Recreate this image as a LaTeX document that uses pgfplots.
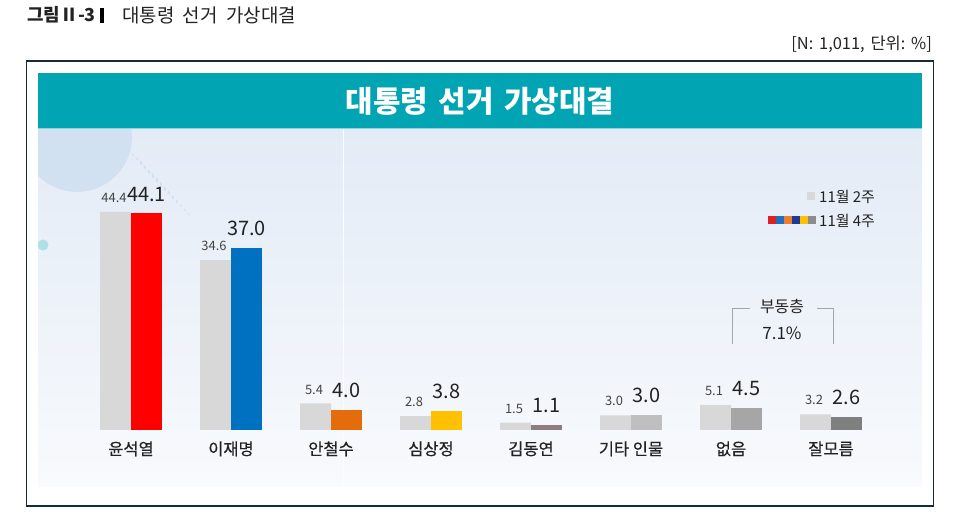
\documentclass[border=0pt]{standalone}
\usepackage{pgfplots}
\pgfplotsset{compat=1.18}
\usepackage{fontspec}
\setmainfont{Noto Sans CJK KR}
\newfontfamily\labfont[FakeBold=0.5]{Noto Sans CJK KR}
\definecolor{boxc}{HTML}{1B2A3A}
\definecolor{bann}{HTML}{00A4B2}
\definecolor{bannl}{HTML}{8AD6DC}
\definecolor{bgtop}{HTML}{E3EBF6}
\definecolor{bgbot}{HTML}{F8FAFD}
\definecolor{circc}{HTML}{CADDF1}
\definecolor{g2}{HTML}{D8D8D8}
\definecolor{cred}{HTML}{FF0000}
\definecolor{cblue}{HTML}{0070C0}
\definecolor{corange}{HTML}{E46C0A}
\definecolor{cyellow}{HTML}{FFC000}
\definecolor{cmauve}{HTML}{8E7C7E}
\definecolor{clgray}{HTML}{BFBFBF}
\definecolor{cmgray}{HTML}{A6A6A6}
\definecolor{cdgray}{HTML}{7F7F7F}
\definecolor{lred}{HTML}{E02020}
\definecolor{lblue}{HTML}{1F6FC0}
\definecolor{lorange}{HTML}{ED7D31}
\definecolor{lnavy}{HTML}{1F3A93}
\definecolor{lyellow}{HTML}{FFC000}
\definecolor{lgray}{HTML}{8C8C8C}
\definecolor{txt}{HTML}{222222}
\pgfplotsset{
  big/.style={nodes near coords={\pgfmathprintnumber[fixed,fixed zerofill,precision=1]{\pgfplotspointmeta}},
    nodes near coords style={anchor=south, inner sep=0pt, yshift=12bp, font=\fontsize{20}{22}\selectfont, text=txt}},
  small/.style={nodes near coords={\pgfmathprintnumber[fixed,fixed zerofill,precision=1]{\pgfplotspointmeta}},
    nodes near coords style={anchor=south, inner sep=0pt, yshift=9bp, xshift=-1.5bp, font=\fontsize{13}{15}\selectfont, text=txt!85}},
  s2/.style={fill=#1, draw=none, bar shift=15.5bp, big},
}
\begin{document}
\begin{tikzpicture}[x=1bp,y=1bp]
\path (0,0) rectangle (956,529);
% header
\node[anchor=west, inner sep=0pt, font=\bfseries\fontsize{18}{20}\selectfont, text=txt] at (27,514) {그림Ⅱ-3};
\fill[black] (100,506) rectangle (103.5,521);
\node[anchor=west, inner sep=0pt, font=\fontsize{19}{21}\selectfont, text=txt] at (122,514) {대통령\hspace{0.45em}선거\hspace{0.45em}가상대결};
\node[anchor=east, inner sep=0pt, font=\fontsize{16.5}{18}\selectfont, text=txt] at (932,485) {[N:\hspace{0.35em}1,011,\hspace{0.35em}단위:\hspace{0.35em}\%]};
% frame and banner
\draw[line width=1.3bp, draw=boxc] (26.7,23) rectangle (933.7,468);
\shade[top color=bgtop, bottom color=bgbot] (38,42) rectangle (922,399.5);
\begin{scope}
\clip (38,42) rectangle (922,399.5);
\fill[circc, opacity=0.7] (77,392) circle (55);
\fill[bannl, opacity=0.6] (43,284) circle (5.5);
\draw[white!85!bgtop, line width=0.8bp] (343,399.5) -- (343,42);
\foreach \o in {0,12,24} {\draw[circc, dashed, line width=0.6bp] (128+\o,380-\o) -- (168+\o,335-\o);}
\end{scope}
\fill[bann] (38,399.5) rectangle (922,455.5);
\draw[bannl, line width=1bp] (38,400) -- (922,400);
\node[font=\bfseries\fontsize{30}{32}\selectfont, text=white] at (480,428) {대통령\hspace{0.35em}선거\hspace{0.35em}가상대결};
% legend
\fill[g2] (807,328.5) rectangle (815,336.5);
\node[anchor=west, inner sep=0pt, font=\fontsize{15}{17}\selectfont, text=txt] at (819,332.4) {11월 2주};
\fill[lred] (768,304.5) rectangle (776,312.5);
\fill[lblue] (776,304.5) rectangle (784,312.5);
\fill[lorange] (784,304.5) rectangle (792,312.5);
\fill[lnavy] (792,304.5) rectangle (800,312.5);
\fill[lyellow] (800,304.5) rectangle (808,312.5);
\fill[lgray] (808,304.5) rectangle (816,312.5);
\node[anchor=west, inner sep=0pt, font=\fontsize{15}{17}\selectfont, text=txt] at (819,308.5) {11월 4주};
% floating voters bracket
\draw[gray!70, line width=0.8bp] (750,221) -- (732,221) -- (732,185);
\draw[gray!70, line width=0.8bp] (816.5,221) -- (833,221) -- (833,185);
\node[font=\fontsize{16}{18}\selectfont, text=txt] at (782,222) {부동층};
\node[font=\fontsize{17}{19}\selectfont, text=txt] at (782,196) {7.1\%};
\begin{axis}[
  at={(81bp,99bp)}, anchor=south west,
  width=800bp, height=294.6bp, scale only axis,
  xmin=-0.5, xmax=7.5, ymin=0, ymax=60,
  axis line style={draw=none}, ytick=\empty,
  xtick={0,1,2,3,4,5,6,7}, major tick length=0pt,
  xticklabels={윤석열,이재명,안철수,심상정,김동연,기타 인물,없음,잘모름},
  xticklabel style={anchor=base, yshift=-25bp, font=\labfont\fontsize{16.5}{18}\selectfont, text=txt},
  ybar, bar width=31bp, clip=false,
  /pgf/number format/assume math mode=true,
]
\addplot[fill=g2, draw=none, bar shift=-15.5bp, small] coordinates {(0,44.4) (1,34.6) (2,5.4) (3,2.8) (4,1.5) (5,3.0) (6,5.1) (7,3.2)};
\addplot[s2=cred] coordinates {(0,44.1)};
\addplot[s2=cblue] coordinates {(1,37.0)};
\addplot[s2=corange] coordinates {(2,4.0)};
\addplot[s2=cyellow] coordinates {(3,3.8)};
\addplot[s2=cmauve] coordinates {(4,1.1)};
\addplot[s2=clgray] coordinates {(5,3.0)};
\addplot[s2=cmgray] coordinates {(6,4.5)};
\addplot[s2=cdgray] coordinates {(7,2.6)};
\end{axis}
\end{tikzpicture}
\end{document}
